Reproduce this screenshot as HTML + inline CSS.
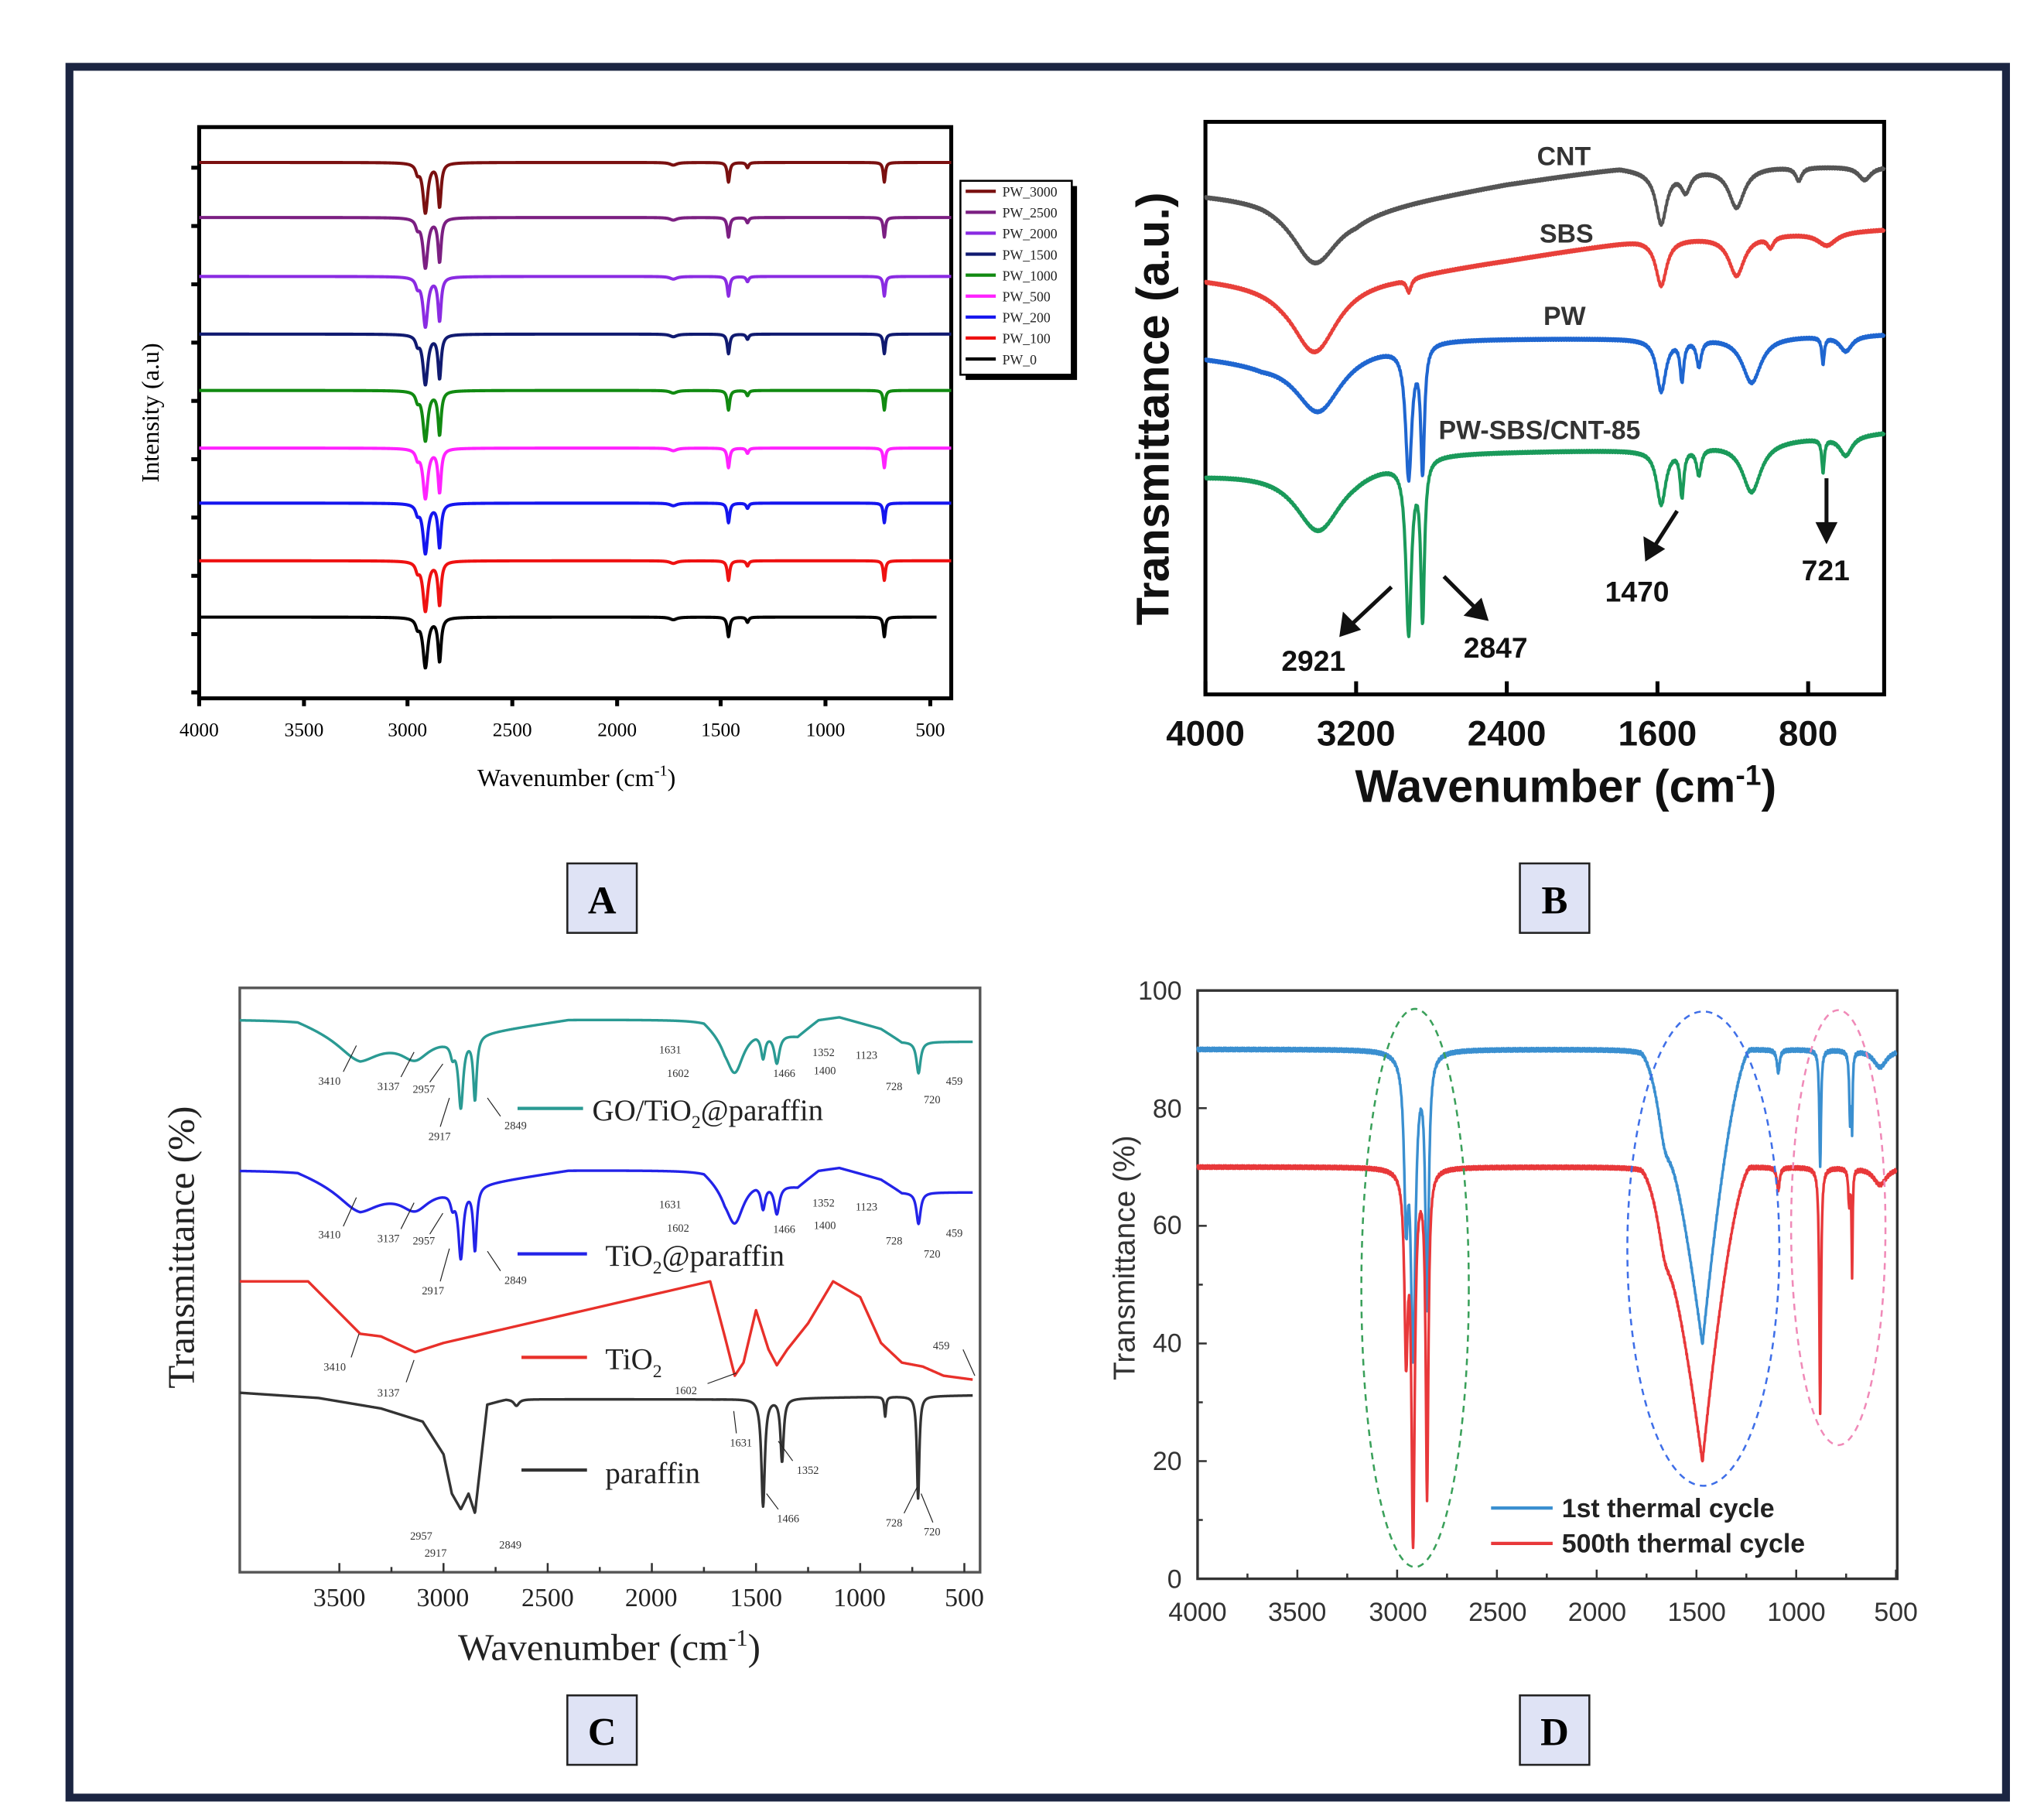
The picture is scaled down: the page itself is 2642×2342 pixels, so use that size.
<!DOCTYPE html>
<html><head><meta charset="utf-8"><style>html,body{margin:0;padding:0;background:#fff}svg{display:block}</style></head>
<body>
<svg id="s" xmlns="http://www.w3.org/2000/svg" width="2642" height="2342" viewBox="0 0 1560 1383" preserveAspectRatio="none">
<rect x="0" y="0" width="1560" height="1383" fill="#fff"/>
<rect x="53" y="51" width="1478" height="1321" fill="none" stroke="#1b2542" stroke-width="6"/>

<!-- Panel A -->
<g font-family="Liberation Serif, serif" fill="#000">
<rect x="152" y="97" width="574" height="436" fill="none" stroke="#000" stroke-width="3"/>
<g id="aticks" stroke="#000" stroke-width="3"></g>
<g font-size="15" text-anchor="middle">
<text x="152" y="562">4000</text><text x="232" y="562">3500</text><text x="311" y="562">3000</text><text x="391" y="562">2500</text><text x="471" y="562">2000</text><text x="550" y="562">1500</text><text x="630" y="562">1000</text><text x="710" y="562">500</text>
</g>
<text x="440" y="600" font-size="19" text-anchor="middle">Wavenumber (cm<tspan font-size="12" dy="-8">-1</tspan><tspan dy="8">)</tspan></text>
<text transform="translate(121,315) rotate(-90)" font-size="19" text-anchor="middle">Intensity (a.u)</text>
<rect x="737" y="142" width="85" height="148" fill="#000"/>
<rect x="733" y="138" width="85" height="148" fill="#fff" stroke="#000" stroke-width="1.5"/>
<g id="alegend" font-size="10.5" fill="#222"></g>
</g>
<g id="acurves" fill="none" stroke-width="2.4"></g>

<!-- Panel B -->
<rect x="920" y="93" width="518" height="437" fill="none" stroke="#000" stroke-width="3"/>
<g stroke="#000" stroke-width="3">
<line x1="920" y1="530" x2="920" y2="520"/><line x1="1035" y1="530" x2="1035" y2="520"/><line x1="1150" y1="530" x2="1150" y2="520"/><line x1="1265" y1="530" x2="1265" y2="520"/><line x1="1380" y1="530" x2="1380" y2="520"/>
</g>
<g id="bcurves" fill="none" stroke-width="2.4"></g>
<g font-family="Liberation Sans, sans-serif" font-weight="bold" fill="#111">
<g font-size="27" text-anchor="middle">
<text x="920" y="569">4000</text><text x="1035" y="569">3200</text><text x="1150" y="569">2400</text><text x="1265" y="569">1600</text><text x="1380" y="569">800</text>
</g>
<text x="1195" y="612" font-size="35" text-anchor="middle">Wavenumber (cm<tspan font-size="22" dy="-13">-1</tspan><tspan dy="13">)</tspan></text>
<text transform="translate(892,312) rotate(-90)" font-size="35" text-anchor="middle">Transmittance (a.u.)</text>
<g font-size="20" fill="#333">
<text x="1173" y="126">CNT</text><text x="1175" y="185">SBS</text><text x="1178" y="248">PW</text><text x="1098" y="335">PW-SBS/CNT-85</text>
</g>
<g font-size="22">
<text x="978" y="512">2921</text><text x="1117" y="502">2847</text><text x="1225" y="459">1470</text><text x="1375" y="443">721</text>
</g>
</g>
<g stroke="#111" stroke-width="3" fill="#111">
<line x1="1062" y1="448" x2="1030" y2="478"/><polygon points="1024,484 1026,470 1036,480"/>
<line x1="1102" y1="440" x2="1128" y2="466"/><polygon points="1134,472 1120,469 1130,459"/>
<line x1="1280" y1="390" x2="1262" y2="418"/><polygon points="1257,426 1256,412 1268,419"/>
<line x1="1394" y1="365" x2="1394" y2="402"/><polygon points="1394,412 1388,400 1400,400"/>
</g>

<!-- Label boxes -->
<g font-family="Liberation Serif, serif" font-weight="bold" font-size="30" text-anchor="middle" fill="#000">
<rect x="433" y="659" width="53" height="53" fill="#dfe3f5" stroke="#222" stroke-width="1.5"/><text x="459.5" y="697">A</text>
<rect x="1160" y="659" width="53" height="53" fill="#dfe3f5" stroke="#222" stroke-width="1.5"/><text x="1186.5" y="697">B</text>
<rect x="433" y="1294" width="53" height="53" fill="#dfe3f5" stroke="#222" stroke-width="1.5"/><text x="459.5" y="1332">C</text>
<rect x="1160" y="1294" width="53" height="53" fill="#dfe3f5" stroke="#222" stroke-width="1.5"/><text x="1186.5" y="1332">D</text>
</g>

<!-- Panel C -->
<rect x="183" y="754" width="565" height="446" fill="none" stroke="#555" stroke-width="2"/>
<g id="cticks" stroke="#333" stroke-width="1.5"></g>
<g id="ccurves" fill="none" stroke-width="2"></g>
<g font-family="Liberation Serif, serif" fill="#222">
<g font-size="20" text-anchor="middle">
<text x="259" y="1226">3500</text><text x="338" y="1226">3000</text><text x="418" y="1226">2500</text><text x="497" y="1226">2000</text><text x="577" y="1226">1500</text><text x="656" y="1226">1000</text><text x="736" y="1226">500</text>
</g>
<text x="465" y="1267" font-size="29" text-anchor="middle">Wavenumber (cm<tspan font-size="18" dy="-11">-1</tspan><tspan dy="11">)</tspan></text>
<text transform="translate(148,952) rotate(-90)" font-size="29" text-anchor="middle">Transmittance (%)</text>
<g font-size="23">
<text x="452" y="855">GO/TiO<tspan font-size="14" dy="6">2</tspan><tspan dy="-6">@paraffin</tspan></text>
<text x="462" y="966">TiO<tspan font-size="14" dy="6">2</tspan><tspan dy="-6">@paraffin</tspan></text>
<text x="462" y="1045">TiO<tspan font-size="14" dy="6">2</tspan></text>
<text x="462" y="1132">paraffin</text>
</g>
<g font-size="8.5" fill="#333">
<text x="243" y="828">3410</text><text x="288" y="832">3137</text><text x="315" y="834">2957</text><text x="327" y="870">2917</text><text x="385" y="862">2849</text>
<text x="503" y="804">1631</text><text x="509" y="822">1602</text><text x="590" y="822">1466</text><text x="620" y="806">1352</text><text x="621" y="820">1400</text><text x="653" y="808">1123</text><text x="676" y="832">728</text><text x="705" y="842">720</text><text x="722" y="828">459</text>
<text x="243" y="945">3410</text><text x="288" y="948">3137</text><text x="315" y="950">2957</text><text x="322" y="988">2917</text><text x="385" y="980">2849</text>
<text x="503" y="922">1631</text><text x="509" y="940">1602</text><text x="590" y="941">1466</text><text x="620" y="921">1352</text><text x="621" y="938">1400</text><text x="653" y="924">1123</text><text x="676" y="950">728</text><text x="705" y="960">720</text><text x="722" y="944">459</text>
<text x="247" y="1046">3410</text><text x="288" y="1066">3137</text><text x="515" y="1064">1602</text><text x="712" y="1030">459</text>
<text x="557" y="1104">1631</text><text x="608" y="1125">1352</text><text x="593" y="1162">1466</text><text x="676" y="1165">728</text><text x="705" y="1172">720</text>
<text x="313" y="1175">2957</text><text x="324" y="1188">2917</text><text x="381" y="1182">2849</text>
</g>
</g>
<g stroke="#222" stroke-width="0.7">
<line x1="262" y1="818" x2="272" y2="798"/><line x1="306" y1="822" x2="316" y2="803"/><line x1="328" y1="826" x2="338" y2="812"/><line x1="336" y1="860" x2="343" y2="838"/><line x1="382" y1="852" x2="372" y2="838"/>
<line x1="262" y1="936" x2="272" y2="914"/><line x1="306" y1="938" x2="316" y2="918"/><line x1="328" y1="942" x2="338" y2="926"/><line x1="336" y1="978" x2="343" y2="953"/><line x1="382" y1="970" x2="372" y2="955"/>
<line x1="268" y1="1036" x2="274" y2="1018"/><line x1="310" y1="1055" x2="316" y2="1038"/><line x1="540" y1="1056" x2="562" y2="1048"/><line x1="735" y1="1030" x2="744" y2="1050"/>
<line x1="562" y1="1094" x2="560" y2="1077"/><line x1="605" y1="1115" x2="594" y2="1100"/><line x1="594" y1="1152" x2="585" y2="1140"/><line x1="690" y1="1155" x2="700" y2="1135"/><line x1="712" y1="1162" x2="703" y2="1140"/>
</g>
<g stroke-width="2.5">
<line x1="395" y1="846" x2="445" y2="846" stroke="#2a9a93"/>
<line x1="395" y1="957" x2="448" y2="957" stroke="#2323e8"/>
<line x1="398" y1="1036" x2="448" y2="1036" stroke="#e8302a"/>
<line x1="398" y1="1122" x2="448" y2="1122" stroke="#333"/>
</g>

<!-- Panel D -->
<rect x="914" y="756" width="534" height="449" fill="none" stroke="#333" stroke-width="2"/>
<g id="dticks" stroke="#333" stroke-width="1.5"></g>
<g id="dcurves" fill="none" stroke-width="2"></g>
<g fill="none" stroke-width="1.5" stroke-dasharray="5,4">
<ellipse cx="1080" cy="983" rx="41" ry="213" stroke="#3aa05a"/>
<ellipse cx="1300" cy="953" rx="58" ry="181" stroke="#3f6fe8"/>
<ellipse cx="1403" cy="937" rx="36" ry="166" stroke="#f08ab8"/>
</g>
<g font-family="Liberation Sans, sans-serif" fill="#333">
<g font-size="20" text-anchor="end">
<text x="902" y="763">100</text><text x="902" y="853">80</text><text x="902" y="942">60</text><text x="902" y="1032">40</text><text x="902" y="1122">20</text><text x="902" y="1212">0</text>
</g>
<g font-size="20" text-anchor="middle">
<text x="914" y="1237">4000</text><text x="990" y="1237">3500</text><text x="1067" y="1237">3000</text><text x="1143" y="1237">2500</text><text x="1219" y="1237">2000</text><text x="1295" y="1237">1500</text><text x="1371" y="1237">1000</text><text x="1447" y="1237">500</text>
</g>
<text transform="translate(866,960) rotate(-90)" font-size="23" text-anchor="middle">Transmittance (%)</text>
<g font-size="20" font-weight="bold" fill="#222">
<text x="1192" y="1158">1st thermal cycle</text>
<text x="1192" y="1185">500th thermal cycle</text>
</g>
</g>
<line x1="1138" y1="1151" x2="1185" y2="1151" stroke="#3a8fd0" stroke-width="2.5"/>
<line x1="1138" y1="1178" x2="1185" y2="1178" stroke="#e8383a" stroke-width="2.5"/>
</svg>
<script>
var NS="http://www.w3.org/2000/svg";
function el(p,t,a){var e=document.createElementNS(NS,t);for(var k in a)e.setAttribute(k,a[k]);document.getElementById(p).appendChild(e);return e;}
function L(w,c,g){var d=(w-c)/g;return 1/(1+d*d);}
function interp(pts,w){for(var i=0;i<pts.length-1;i++){var a=pts[i],b=pts[i+1];if(w<=a[0]&&w>=b[0]){var t=(a[0]-w)/(a[0]-b[0]);return a[1]+t*(b[1]-a[1]);}}return pts[pts.length-1][1];}
function path(g,color,w0,w1,xf,yf,sw){var d="";var n=0;for(var w=w0;w>=w1;w-=2){d+=(n++?"L":"M")+xf(w).toFixed(2)+","+yf(w).toFixed(2);}el(g,"path",{d:d,stroke:color,"stroke-width":sw||2.4,fill:"none","stroke-linejoin":"round"});}
function dips(w,arr){var s=0;for(var i=0;i<arr.length;i++)s+=arr[i][2]*L(w,arr[i][0],arr[i][1]);return s;}

// Panel A
var xa=function(w){return 152+(4000-w)*0.15943;};
var As=[["PW_3000","#7a1010",124],["PW_2500","#7b1f82",166],["PW_2000","#8a2be2",211],["PW_1500","#101a70",255],["PW_1000","#118a11",298],["PW_500","#ff22ff",342],["PW_200","#1515ee",384],["PW_100","#ee1111",428],["PW_0","#000",471]];
As.forEach(function(s,i){var b=s[2];var end=i==8?470:400;
path("acurves",s[1],4000,end,xa,function(w){return b+dips(w,[[2917,14,38],[2849,9,33],[2955,10,6],[1466,7,15],[1375,7,4],[720,6,15],[1730,20,2]]);},2.4);
el("alegend","line",{x1:737,x2:760,y1:146+i*16,y2:146+i*16,stroke:s[1],"stroke-width":2.5});
var t=el("alegend","text",{x:765,y:150+i*16});t.textContent=s[0];});
for(var y=128;y<=533;y+=44.5){el("aticks","line",{x1:146,x2:152,y1:y,y2:y});}
[152,232,311,391,471,550,630,710].forEach(function(x){el("aticks","line",{x1:x,x2:x,y1:533,y2:539});});

// Panel B
var xb=function(w){return 920+(4000-w)*0.14375;};
var B=[["#555",[[4000,148],[3700,150],[3200,160],[2400,140],[1800,128],[1650,130],[1000,127],[396,127]],[[3420,150,45],[1580,35,40],[1450,30,15],[1180,50,30],[850,20,10],[500,40,10]]],
["#e8403a",[[4000,212],[3600,215],[3000,210],[2400,198],[1700,183],[396,175]],[[3420,150,55],[2920,15,10],[1580,35,35],[1180,50,30],[700,60,10],[1000,20,8]]],
["#1f66d0",[[4000,272],[3700,275],[3200,265],[2800,258],[1700,258],[396,255]],[[3400,150,45],[2921,20,100],[2847,12,95],[1580,30,40],[1470,12,30],[1380,15,20],[1100,60,35],[721,8,20],[600,40,12]]],
["#1a9a5a",[[4000,362],[3200,355],[2800,345],[1700,343],[396,330]],[[3400,150,48],[2921,18,130],[2847,12,120],[1580,30,42],[1470,12,35],[1380,15,20],[1100,60,38],[721,8,25],[600,40,15]]]];
B.forEach(function(s){path("bcurves",s[0],4000,396,xb,function(w){return interp(s[1],w)+dips(w,s[2])+Math.sin(w*0.9)*0.8;},2.4);});

// Panel C
var xc=function(w){return 259+(3500-w)*0.159;};
var gd=[[3410,120,14],[3137,80,14],[2957,12,10],[2917,14,52],[2849,10,48],[1602,50,30],[1466,12,18],[1400,15,22],[720,12,24]];
var gb=[[3978,778],[3700,778],[3400,795],[3000,792],[2700,785],[2400,778],[1750,778],[1650,790],[1500,785],[1300,790],[1200,778],[1100,776],[900,785],[800,795],[459,795]];
path("ccurves","#2a9a93",3978,459,xc,function(w){return interp(gb,w)+dips(w,gd);},2);
path("ccurves","#2323e8",3978,459,xc,function(w){return interp(gb,w)+115+dips(w,gd);},2);
var rb=[[3978,978],[3650,978],[3400,1018],[3300,1020],[3137,1032],[3000,1025],[1720,978],[1650,1020],[1602,1050],[1560,1040],[1500,1000],[1440,1030],[1400,1042],[1350,1030],[1250,1010],[1130,978],[1000,990],[900,1025],[800,1040],[700,1043],[600,1050],[459,1053]];
path("ccurves","#e8302a",3978,459,xc,function(w){return interp(rb,w);},2);
var kb=[[3978,1063],[3600,1067],[3300,1075],[3100,1085],[3000,1110],[2960,1140],[2917,1152],[2880,1140],[2849,1155],[2790,1072],[2700,1068],[2000,1068],[1700,1068],[459,1065]];
path("ccurves","#333",3978,459,xc,function(w){return interp(kb,w)+dips(w,[[1466,10,82],[1375,9,48],[880,5,15],[722,7,78],[2650,15,5]]);},2);
[3500,3000,2500,2000,1500,1000,500].forEach(function(w){el("cticks","line",{x1:xc(w),x2:xc(w),y1:1200,y2:1193});});
[3250,2750,2250,1750,1250,750].forEach(function(w){el("cticks","line",{x1:xc(w),x2:xc(w),y1:1200,y2:1196});});

// Panel D
var xd=function(w){return 914+(4000-w)*0.1523;};
var yd=function(v){return 1205-v*4.49;};
function broad(w,c,lo,hi,depth){if(w>hi||w<lo)return 0;var t=w>c?(hi-w)/(hi-c):(w-lo)/(c-lo);return depth*Math.pow(t,1.6);}
path("dcurves","#3a8fd0",4000,500,xd,function(w){var v=90-dips(w,[[2955,12,25],[2920,14,50],[2850,10,42],[1090,8,4],[880,5,20],[730,5,12],[720,3,12],[580,40,3]])-broad(w,1470,1230,1780,50)-6*L(w,1660,40);return yd(Math.max(v,36)+Math.sin(w*1.3)*0.3);},2);
path("dcurves","#e8383a",4000,500,xd,function(w){var v=70-dips(w,[[2955,10,30],[2920,10,62],[2850,8,55],[1090,8,4],[880,5,42],[735,5,6],[720,3,18],[580,40,3]])-broad(w,1470,1230,1780,50)-5*L(w,1660,40);return yd(Math.max(v,4)+Math.sin(w*1.3)*0.3);},2);
for(var v=0;v<=100;v+=10){el("dticks","line",{x1:914,x2:v%20?918:921,y1:yd(v),y2:yd(v)});}
for(var w=4000;w>=500;w-=250){el("dticks","line",{x1:xd(w),x2:xd(w),y1:1205,y2:w%500?1201:1198});}
</script>
</body></html>
